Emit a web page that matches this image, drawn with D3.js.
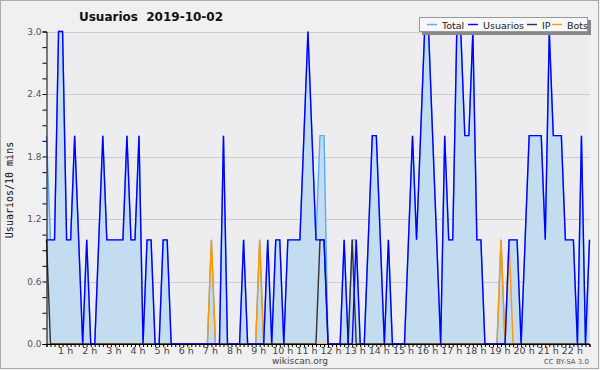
<!DOCTYPE html>
<html>
<head>
<meta charset="utf-8">
<script src="https://cdn.jsdelivr.net/npm/d3@7"></script>
<style>
body { margin: 0; background: #f0f0f0; }
svg { display: block; }
</style>
</head>
<body>
<div id="chart"></div>
<script>
// one point every 10 minutes, first point is 00:10
var usuarios = [1,1,1,3,3,1,1,2,1,0, 1,0,0,1,2,1,1,1,1,1, 2,1,1,2,0,1,1,0,0,1,
    1,0,0,0,0,0,0,0,0,0, 0,0,0,0,2,0,0,0,0,1, 0,0,0,0,0,1,0,1,1,0,
    1,1,1,1,2,3,2,1,1,1, 0,0,0,0,1,0,0,1,0,0, 1,2,2,1,0,1,0,0,0,0,
    1,2,1,2,3,3,2,1,0,2, 1,1,3,3,2,2,3,1,1,0, 0,0,0,0,0,1,1,1,0,1,
    2,2,2,2,1,3,2,2,2,1, 1,1,0,2,0,1];
var ipPoints = {0: 1, 68: 1, 69: 1, 76: 1};
var botPoints = {41: 1, 53: 1, 113: 1, 115: 1};
var totalPoints = {0: 2, 41: 1, 53: 1, 68: 2, 69: 2, 76: 1, 113: 1};
var yTicks = [0, 0.6, 1.2, 1.8, 2.4, 3.0];
var hourLabels = d3.range(1, 23);
var legendNames = ["Total", "Usuarios", "IP", "Bots"];
var legendColors = ["#5aaaf5", "#0000ff", "#333333", "#ff9900"];

var ip = usuarios.map(function(d, i) { return ipPoints[i] || 0; });
var bots = usuarios.map(function(d, i) { return botPoints[i] || 0; });
var total = usuarios.map(function(d, i) { return totalPoints[i] !== undefined ? totalPoints[i] : d; });

var W = 600, H = 370;
var svg = d3.select("#chart").append("svg")
    .attr("width", W).attr("height", H)
    .style("font-family", "DejaVu Sans");

svg.append("rect").attr("x", 0.5).attr("y", 0.5).attr("width", W - 2).attr("height", H - 2)
    .attr("fill", "#f0f0f0").attr("stroke", "#aaaaaa");

var x = d3.scaleLinear().domain([10, 1360]).range([46.5, 589.5]);
var y = d3.scaleLinear().domain([0, 3]).range([344, 31.5]);
var xi = function(i) { return x((i + 1) * 10); };

svg.append("rect").attr("x", 46.5).attr("y", 31.5).attr("width", 543).attr("height", 312.5)
    .attr("fill", "#ededf0");

// grid
svg.append("g").selectAll("line").data(yTicks.slice(1)).enter().append("line")
    .attr("x1", 46.5).attr("x2", 589.5)
    .attr("y1", function(d) { return Math.round(y(d)) + 0.5; })
    .attr("y2", function(d) { return Math.round(y(d)) + 0.5; })
    .attr("stroke", "#cccccc");

// total area
svg.append("path").datum(total)
    .attr("fill", "#c4dcf0")
    .attr("d", d3.area().x(function(d, i) { return xi(i); }).y0(y(0)).y1(function(d) { return y(d); }));

var line = d3.line().x(function(d, i) { return xi(i); }).y(function(d) { return y(d); });
[[total, legendColors[0]], [bots, legendColors[3]], [ip, legendColors[2]], [usuarios, legendColors[1]]].forEach(function(s) {
    svg.append("path").datum(s[0]).attr("fill", "none")
        .attr("stroke", s[1]).attr("stroke-width", 1.4).attr("d", line);
});

// y axis
var yAxis = d3.axisLeft(y).tickValues(d3.range(0, 3.01, 0.15)).tickSize(4)
    .tickFormat(function(d) { return Math.abs(d / 0.6 - Math.round(d / 0.6)) < 1e-6 ? d3.format(".1f")(d) : ""; });
var gy = svg.append("g").attr("transform", "translate(46.5,0)").call(yAxis);
gy.select(".domain").attr("stroke", "#000");
gy.selectAll("text").attr("font-size", 9).attr("fill", "#555").attr("font-family", "DejaVu Sans").attr("x", -5);

// x axis
var xAxis = d3.axisBottom(x).tickValues(d3.range(10, 1361, 10)).tickSize(3).tickFormat("");
var gx = svg.append("g").attr("transform", "translate(0,344)").call(xAxis);
gx.select(".domain").attr("stroke", "#000");
svg.append("g").selectAll("text").data(hourLabels).enter().append("text")
    .attr("x", function(d) { return x(d * 60) - 1; })
    .attr("y", 353.5)
    .attr("text-anchor", "middle")
    .attr("font-size", 9.5).attr("fill", "#444")
    .text(function(d) { return d + " h"; });

// titles
svg.append("text").attr("x", 151).attr("y", 21).attr("text-anchor", "middle")
    .attr("xml:space", "preserve").style("white-space", "pre")
    .attr("font-size", 12).attr("font-weight", "bold").attr("fill", "#111")
    .text("Usuarios  2019-10-02");
svg.append("text").attr("transform", "translate(13,190) rotate(-90)")
    .attr("text-anchor", "middle").attr("font-family", "DejaVu Sans Mono")
    .attr("font-size", 10).attr("fill", "#111").text("Usuarios/10 mins");
svg.append("text").attr("x", 300).attr("y", 364).attr("text-anchor", "middle")
    .attr("font-size", 9).attr("fill", "#444").text("wikiscan.org");
svg.append("text").attr("x", 589).attr("y", 364).attr("text-anchor", "end")
    .attr("font-size", 7).attr("fill", "#555").text("CC BY-SA 3.0");

// legend
var lg = svg.append("g");
lg.append("rect").attr("x", 422).attr("y", 20).attr("width", 169).attr("height", 15).attr("fill", "#888");
lg.append("rect").attr("x", 419.5).attr("y", 17.5).attr("width", 168).attr("height", 14)
    .attr("fill", "#f7f7f8").attr("stroke", "#999");
var legX = [427, 468, 527, 552];
legendNames.forEach(function(n, k) {
    lg.append("line").attr("x1", legX[k]).attr("x2", legX[k] + 10).attr("y1", 24.5).attr("y2", 24.5)
        .attr("stroke", legendColors[k]).attr("stroke-width", 1.4);
    lg.append("text").attr("x", legX[k] + 15).attr("y", 28.5).attr("font-size", 9.5).attr("fill", "#222").text(n);
});
</script>
</body>
</html>
